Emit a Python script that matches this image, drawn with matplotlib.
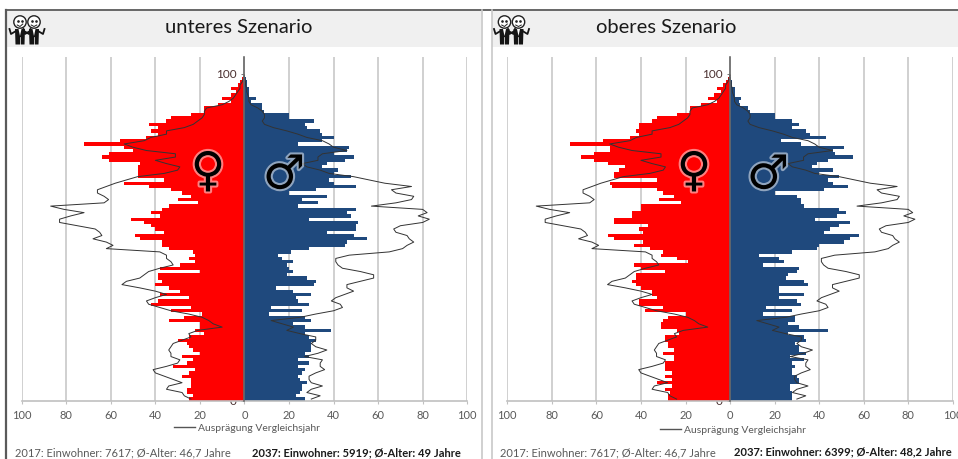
import matplotlib
matplotlib.use("Agg")
import matplotlib.pyplot as plt
import matplotlib.patheffects as pe
from matplotlib.patches import Circle, Rectangle, Polygon
import numpy as np

plt.rcParams['font.family'] = ['Lato', 'DejaVu Sans']

W, H = 958, 459

male_low = [27,23,25,26,26,28,25,24,26,27,
            24,29,24,29,27,30,30,30,32,29,
            27,39,27,22,30,27,11,26,12,29,
            24,23,30,22,14,31,32,28,19,22,
            20,19,22,17,15,21,29,45,46,55,
            49,37,50,50,51,29,48,46,50,24,
            33,26,37,20,32,50,40,38,48,40,
            42,35,37,45,49,40,46,47,24,35,
            40,35,34,28,27,31,20,20,9,8,
            8,3,5,2,2,2,1,1,0.5,0]
female_low = [25,23,26,26,24,24,24,28,25,22,
              32,26,23,28,20,23,25,26,30,25,
              18,22,20,20,34,27,19,33,24,42,
              39,25,38,29,34,40,37,39,39,20,
              38,29,22,25,22,23,34,37,37,47,
              49,36,40,42,45,51,38,42,37,34,
              21,30,24,28,33,43,54,36,48,48,
              48,48,47,61,64,61,50,54,72,56,
              44,39,42,39,43,35,33,24,18,18,
              12,6,10,6,4,6,3,2,1,0]
male_high = [28,28,28,27,27,31,31,30,28,28,
             29,28,33,27,34,31,31,29,34,33,
             26,44,31,26,29,29,15,28,16,32,
             30,22,33,22,22,35,33,25,26,30,
             31,15,24,22,13,28,39,40,51,54,
             58,42,45,49,54,38,48,52,49,33,
             32,32,30,20,42,53,46,44,49,40,
             46,37,39,44,55,47,46,51,32,23,
             43,36,34,28,31,28,20,20,9,8,
             4.5,4,5,2,2,2,1,1,0.5,0]
female_high = [28,28,27,29,26,33,26,29,26,29,
               29,29,25,25,30,25,28,28,29,29,
               23,24,31,31,30,28,20,38,30,41,
               41,33,35,35,40,42,44,42,42,29,
               40,43,19,24,31,30,36,43,39,52,
               55,39,41,37,52,52,44,44,40,40,
               22,32,25,30,33,53,54,33,52,52,
               50,47,55,61,67,61,54,54,72,57,
               45,41,42,41,41,35,33,24,18,18,
               13,6,10,7,4,6,3,2,1,0]
male_2017 = [30,34,28,30,35,30,29,29,32,36,
             34,34,35,27,33,37,32,30,32,32,
             25,19,22,17,12,25,32,40,44,43,
             39,41,45,49,46,46,52,58,58,52,
             44,42,41,41,47,65,71,73,76,74,
             73,68,67,70,80,83,78,82,80,57,
             68,75,76,68,66,75,63,56,49,38,
             34,28,26,33,33,35,46,40,38,35,
             28,24,19,13,9,8,9,9,8,6,
             3,2,2,1.5,1,1,0.5,0.5,0,0]
female_2017 = [24,27,28,35,34,28,32,36,40,41,
               35,30,29,33,33,34,33,32,28,24,
               25,21,10,14,16,19,25,33,38,43,
               44,40,35,40,47,55,53,47,45,43,
               38,32,33,35,35,38,62,59,62,68,
               64,65,67,75,83,83,78,72,81,87,
               63,61,63,66,66,62,58,53,48,36,
               30,29,35,40,31,31,44,50,54,45,
               42,35,35,27,23,21,19,18,18,17,
               10,7,5,4,3,2,2,1,0.5,0]
ages = list(range(100))
age_ticks = list(range(0, 101, 10))
x_ticks = list(range(-100, 101, 20))
x_labels = [str(abs(v)) for v in x_ticks]

titles = ["unteres Szenario", "oberes Szenario"]
text_2017 = "2017: Einwohner: 7617; Ø-Alter: 46,7 Jahre"
text_2037 = ["2037: Einwohner: 5919; Ø-Alter: 49 Jahre",
             "2037: Einwohner: 6399; Ø-Alter: 48,2 Jahre"]
legend_label = "Ausprägung Vergleichsjahr"

RED, BLUE = "#ff0000", "#1f497d"

fig = plt.figure(figsize=(W/100, H/100), dpi=100, facecolor="white")
bg = fig.add_axes([0, 0, 1, 1], zorder=0)
bg.set_xlim(0, W); bg.set_ylim(H, 0); bg.axis("off")

# panel frames and header bands
bg.add_patch(Rectangle((7, 11), 474, 36, fc="#f0f0f0", ec="none"))
bg.add_patch(Rectangle((492, 11), 466, 36, fc="#f0f0f0", ec="none"))
bg.plot([6, 958], [10, 10], color="#5a5a5a", lw=1.3)
bg.plot([6, 6], [10, 459], color="#5a5a5a", lw=1.6)
bg.plot([482, 482], [10, 459], color="#c8c8c8", lw=1.2)
bg.plot([492, 492], [10, 459], color="#c8c8c8", lw=1.2)


def icon(ox):
    for dx, tilt in ((0, -1), (14, 1)):
        cx = ox + dx
        bg.add_patch(Circle((cx, 22), 6.2, fc="white", ec="#222222", lw=1.0))
        bg.plot([cx-2.8, cx, cx+2.8], [25, 26.5, 24.5+tilt*0.5], color="#222222", lw=0.7)
        bg.plot([cx-2], [20.5], ".", color="#222222", ms=1.8)
        bg.plot([cx+2], [20.5], ".", color="#222222", ms=1.8)
        bg.add_patch(Polygon([(cx-5, 29), (cx+5, 29), (cx+4.5, 44.5), (cx-4.5, 44.5)],
                             fc="#151515", ec="none"))
        bg.plot([cx-4, cx-9, cx-10.5], [31, 34, 29], color="#151515", lw=1.3)
        bg.plot([cx+4, cx+9, cx+10.5], [31, 34, 29], color="#151515", lw=1.3)
        bg.add_patch(Polygon([(cx-1.5, 29), (cx+1.5, 29), (cx, 36)], fc="white", ec="none"))
        bg.plot([cx, cx], [37, 44.5], color="white", lw=0.5)


def panel(left_px, males, females, title, title_x, tail, tail_x, left_text_x, tail_y, leg_y,
          venus_x, mars_x):
    ax = fig.add_axes([left_px/W, 1-400.7/H, 445.5/W, 343.4/H], zorder=2)
    ax.patch.set_alpha(0)
    ax.set_xlim(-100, 100)
    ax.set_ylim(0, 105)
    pos = [a + 0.5 for a in ages]
    ax.set_axisbelow(True)
    ax.grid(axis="x", color="#c8c8c8", lw=1.2)
    ax.barh(pos, [-v for v in females], height=1.0, color=RED, lw=0, zorder=2)
    ax.barh(pos, males, height=1.0, color=BLUE, lw=0, zorder=2)
    ax.plot([-v for v in female_2017], pos, color="#333333", lw=0.7, zorder=3,
            label=legend_label)
    ax.plot(male_2017, pos, color="#333333", lw=0.7, zorder=3)
    for s in ("top", "right"):
        ax.spines[s].set_visible(False)
    ax.spines["left"].set_position(("data", 0))
    ax.spines["left"].set_color("#6a6a6a")
    ax.spines["left"].set_linewidth(1.2)
    ax.spines["left"].set_zorder(4)
    ax.spines["bottom"].set_color("#c0c0c0")
    ax.spines["bottom"].set_linewidth(1.2)
    ax.set_yticks(age_ticks)
    ax.set_yticklabels([str(a) for a in age_ticks])
    ax.tick_params(axis="y", length=2.5, width=0.7, color="#777777", labelcolor="#4a3030",
                   labelsize=8.5, pad=3)
    for lb in ax.get_yticklabels():
        lb.set_zorder(5)
    ax.set_xticks(x_ticks)
    ax.set_xticklabels(x_labels)
    ax.tick_params(axis="x", length=2.5, width=0.8, color="#c0c0c0", labelcolor="#595959",
                   labelsize=8, pad=4)
    handles, labels = ax.get_legend_handles_labels()
    leg = ax.legend(handles, labels, loc="center", frameon=False, fontsize=7.5,
                    bbox_to_anchor=(0.5 + 3/445.5, (400.7-leg_y)/343.4), handlelength=2.0,
                    handletextpad=0.3, labelcolor="#595959", borderpad=0, borderaxespad=0)
    leg.get_lines()[0].set_color("#555555")
    leg.get_lines()[0].set_linewidth(1.0)

    # gender symbols
    glow = [pe.withStroke(linewidth=3, foreground="#ffffff", alpha=0.5)]
    top = fig.add_axes([0, 0, 1, 1], zorder=3)
    top.set_xlim(0, W); top.set_ylim(H, 0); top.axis("off"); top.patch.set_alpha(0)
    top.text(venus_x, 173, "\u2640", family="DejaVu Sans", fontsize=34, ha="center", va="center",
             color="black", path_effects=glow)
    top.text(mars_x, 176, "\u2642", family="DejaVu Sans", fontsize=34, ha="center", va="center",
             color="black", path_effects=glow)

    bg.text(title_x, 27.5, title, fontsize=14.5, ha="center", va="center", color="#1a1a1a")
    bg.text(left_text_x, 452.5, text_2017, fontsize=8.0, ha="left", va="center", color="#595959")
    bg.text(tail_x, tail_y, tail, fontsize=8.0, ha="left", va="center", color="#1a1a1a",
            fontweight="bold")


panel(21.7, male_low, female_low, titles[0], 239, text_2037[0], 252, 15, 452.5, 428, 208, 284)
panel(507.3, male_high, female_high, titles[1], 666, text_2037[1], 734, 500, 451.5, 430, 694, 768)
icon(20)
icon(504.5)

fig.savefig("out.png", dpi=100)
